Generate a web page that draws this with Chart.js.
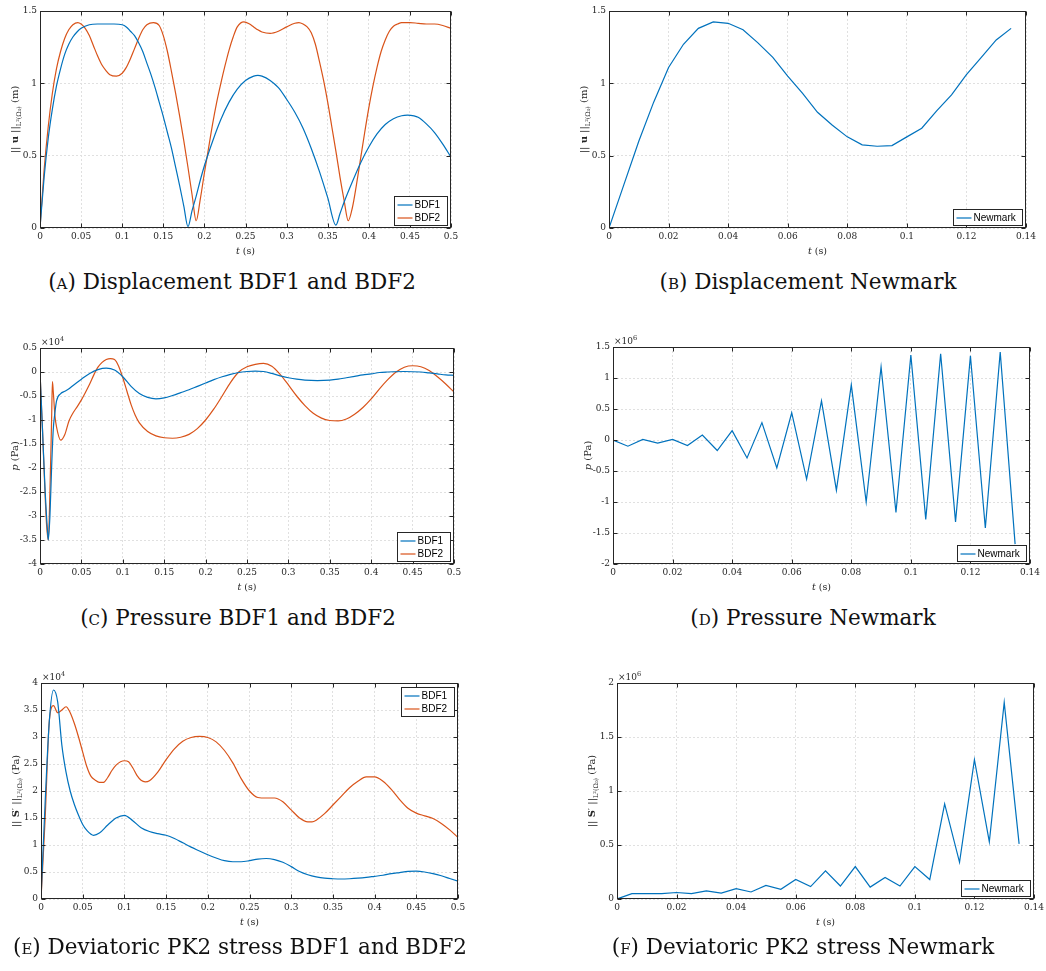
<!DOCTYPE html>
<html>
<head>
<meta charset="utf-8">
<script src="https://cdn.jsdelivr.net/npm/chart.js@4.4.0/dist/chart.umd.min.js"></script>
<style>
  body { margin: 0; background: #fff; width: 1046px; height: 971px; position: relative; overflow: hidden; }
  .panel { position: absolute; }
  .panel canvas { display: block; }
  .cap { position: absolute; font-family: 'DejaVu Serif', serif; font-size: 21.5px; color: #111;
         white-space: nowrap; transform: translateX(-50%); line-height: 26px; }
  .sc { font-variant: small-caps; }
</style>
</head>
<body>

<div class="panel" id="pA"><canvas></canvas></div>
<div class="panel" id="pB"><canvas></canvas></div>
<div class="panel" id="pC"><canvas></canvas></div>
<div class="panel" id="pD"><canvas></canvas></div>
<div class="panel" id="pE"><canvas></canvas></div>
<div class="panel" id="pF"><canvas></canvas></div>

<div class="cap" style="left:232px;top:269px">(<span class="sc">a</span>) Displacement BDF1 and BDF2</div>
<div class="cap" style="left:808px;top:269px">(<span class="sc">b</span>) Displacement Newmark</div>
<div class="cap" style="left:238px;top:605px">(<span class="sc">c</span>) Pressure BDF1 and BDF2</div>
<div class="cap" style="left:813px;top:605px">(<span class="sc">d</span>) Pressure Newmark</div>
<div class="cap" style="left:240px;top:934px">(<span class="sc">e</span>) Deviatoric PK2 stress BDF1 and BDF2</div>
<div class="cap" style="left:803px;top:934px">(<span class="sc">f</span>) Deviatoric PK2 stress Newmark</div>

<script>
// tick labels
const ticksT05 = [0, 0.05, 0.1, 0.15, 0.2, 0.25, 0.3, 0.35, 0.4, 0.45, 0.5]
const ticksT014 = [0, 0.02, 0.04, 0.06, 0.08, 0.1, 0.12, 0.14]
const ticksDisp = [0, 0.5, 1, 1.5]
const ticksPresBdf = [-4, -3.5, -3, -2.5, -2, -1.5, -1, -0.5, 0, 0.5]
const ticksPresNewmark = [-2, -1.5, -1, -0.5, 0, 0.5, 1, 1.5]
const ticksStressBdf = [0, 0.5, 1, 1.5, 2, 2.5, 3, 3.5, 4]
const ticksStressNewmark = [0, 0.5, 1, 1.5, 2]

// displacement (m), [t, value]
const dispBdf1 = [[0,0],[0.005,0.35],[0.01,0.62],[0.015,0.82],[0.02,0.98],[0.025,1.1],[0.03,1.2],[0.035,1.27],[0.04,1.32],[0.045,1.355],[0.05,1.38],[0.06,1.405],[0.07,1.41],[0.08,1.41],[0.09,1.41],[0.1,1.405],[0.105,1.39],[0.11,1.36],[0.115,1.33],[0.12,1.28],[0.125,1.22],[0.13,1.14],[0.135,1.06],[0.14,0.97],[0.145,0.87],[0.15,0.77],[0.155,0.66],[0.16,0.55],[0.165,0.42],[0.17,0.29],[0.175,0.15],[0.18,0.01],[0.185,0.12],[0.19,0.22],[0.195,0.33],[0.2,0.43],[0.21,0.6],[0.22,0.75],[0.23,0.87],[0.24,0.96],[0.25,1.02],[0.26,1.05],[0.265,1.055],[0.27,1.05],[0.28,1.02],[0.29,0.97],[0.3,0.89],[0.31,0.8],[0.32,0.69],[0.33,0.55],[0.34,0.39],[0.35,0.21],[0.36,0.02],[0.365,0.1],[0.37,0.18],[0.38,0.32],[0.39,0.45],[0.4,0.56],[0.41,0.65],[0.42,0.715],[0.43,0.755],[0.44,0.776],[0.447,0.78],[0.455,0.775],[0.46,0.765],[0.47,0.72],[0.48,0.66],[0.49,0.58],[0.5,0.49]]
const dispBdf2 = [[0,0],[0.005,0.4],[0.01,0.7],[0.015,0.93],[0.02,1.1],[0.025,1.22],[0.03,1.31],[0.035,1.37],[0.04,1.405],[0.046,1.42],[0.05,1.41],[0.055,1.38],[0.06,1.33],[0.065,1.26],[0.07,1.19],[0.075,1.13],[0.08,1.09],[0.085,1.06],[0.093,1.05],[0.1,1.07],[0.105,1.11],[0.11,1.17],[0.115,1.24],[0.12,1.31],[0.125,1.37],[0.13,1.405],[0.138,1.42],[0.145,1.4],[0.15,1.33],[0.155,1.22],[0.16,1.08],[0.165,0.93],[0.17,0.77],[0.175,0.6],[0.18,0.42],[0.185,0.23],[0.19,0.05],[0.195,0.2],[0.2,0.38],[0.205,0.55],[0.21,0.72],[0.215,0.87],[0.22,1.0],[0.225,1.12],[0.23,1.23],[0.235,1.32],[0.24,1.39],[0.248,1.425],[0.255,1.41],[0.26,1.39],[0.265,1.37],[0.27,1.355],[0.28,1.345],[0.29,1.36],[0.3,1.39],[0.31,1.415],[0.315,1.42],[0.32,1.41],[0.325,1.39],[0.33,1.35],[0.335,1.27],[0.34,1.15],[0.345,1.02],[0.35,0.87],[0.355,0.7],[0.36,0.53],[0.365,0.35],[0.37,0.19],[0.375,0.05],[0.38,0.14],[0.385,0.3],[0.39,0.48],[0.395,0.66],[0.4,0.83],[0.405,0.98],[0.41,1.11],[0.415,1.22],[0.42,1.3],[0.425,1.36],[0.43,1.395],[0.435,1.41],[0.44,1.42],[0.45,1.42],[0.46,1.415],[0.47,1.41],[0.48,1.41],[0.49,1.4],[0.5,1.38]]

// pressure (x1e4 Pa)
const presBdf1 = [[0,0],[0.003,-1.2],[0.006,-2.4],[0.009,-3.3],[0.01,-3.5],[0.012,-3.0],[0.014,-2.0],[0.016,-1.2],[0.018,-0.85],[0.02,-0.6],[0.025,-0.45],[0.03,-0.4],[0.035,-0.35],[0.04,-0.28],[0.05,-0.15],[0.06,-0.03],[0.07,0.05],[0.08,0.08],[0.09,0.04],[0.1,-0.1],[0.11,-0.3],[0.12,-0.45],[0.13,-0.53],[0.14,-0.56],[0.15,-0.54],[0.16,-0.49],[0.17,-0.43],[0.18,-0.37],[0.19,-0.3],[0.2,-0.23],[0.21,-0.16],[0.22,-0.1],[0.23,-0.05],[0.24,-0.01],[0.25,0.01],[0.26,0.02],[0.27,0.01],[0.28,-0.03],[0.29,-0.08],[0.3,-0.12],[0.31,-0.15],[0.32,-0.17],[0.335,-0.18],[0.35,-0.17],[0.36,-0.15],[0.37,-0.12],[0.38,-0.09],[0.39,-0.06],[0.4,-0.04],[0.41,-0.01],[0.42,0],[0.44,0.01],[0.46,0],[0.47,-0.02],[0.48,-0.04],[0.49,-0.06],[0.5,-0.07]]
const presBdf2 = [[0,0],[0.003,-1.2],[0.006,-2.5],[0.008,-3.2],[0.01,-3.5],[0.012,-2.5],[0.014,-1.0],[0.015,-0.2],[0.016,-0.4],[0.018,-0.9],[0.02,-1.15],[0.025,-1.42],[0.03,-1.3],[0.035,-1.02],[0.04,-0.85],[0.045,-0.72],[0.05,-0.58],[0.055,-0.42],[0.06,-0.25],[0.065,-0.06],[0.07,0.1],[0.075,0.2],[0.08,0.26],[0.085,0.28],[0.09,0.26],[0.095,0.12],[0.1,-0.12],[0.105,-0.4],[0.11,-0.68],[0.115,-0.9],[0.12,-1.06],[0.13,-1.24],[0.14,-1.33],[0.15,-1.37],[0.16,-1.38],[0.17,-1.36],[0.18,-1.3],[0.19,-1.18],[0.2,-1.0],[0.21,-0.77],[0.22,-0.5],[0.23,-0.22],[0.24,0],[0.25,0.11],[0.26,0.16],[0.27,0.18],[0.28,0.12],[0.29,-0.05],[0.3,-0.27],[0.31,-0.5],[0.32,-0.7],[0.33,-0.86],[0.34,-0.96],[0.35,-1.01],[0.36,-1.02],[0.37,-0.98],[0.38,-0.88],[0.39,-0.74],[0.4,-0.56],[0.41,-0.35],[0.42,-0.16],[0.43,0],[0.44,0.1],[0.45,0.13],[0.46,0.11],[0.47,0.03],[0.48,-0.1],[0.49,-0.25],[0.5,-0.42]]

// deviatoric PK2 stress (x1e4 Pa)
const stressBdf1 = [[0,0],[0.005,1.8],[0.01,3.3],[0.015,3.87],[0.02,3.65],[0.025,2.85],[0.03,2.35],[0.035,2.0],[0.04,1.75],[0.045,1.55],[0.05,1.38],[0.055,1.27],[0.063,1.18],[0.07,1.22],[0.08,1.37],[0.09,1.5],[0.1,1.55],[0.11,1.45],[0.12,1.32],[0.13,1.25],[0.14,1.21],[0.15,1.18],[0.16,1.12],[0.17,1.04],[0.18,0.96],[0.19,0.89],[0.2,0.82],[0.21,0.76],[0.22,0.71],[0.23,0.69],[0.24,0.69],[0.25,0.71],[0.26,0.74],[0.27,0.75],[0.28,0.73],[0.29,0.68],[0.3,0.6],[0.31,0.51],[0.32,0.45],[0.33,0.41],[0.34,0.385],[0.35,0.375],[0.36,0.37],[0.37,0.375],[0.38,0.385],[0.39,0.4],[0.4,0.42],[0.41,0.44],[0.42,0.47],[0.43,0.49],[0.44,0.51],[0.45,0.515],[0.46,0.5],[0.47,0.47],[0.48,0.43],[0.49,0.38],[0.5,0.33]]
const stressBdf2 = [[0,0],[0.005,1.5],[0.01,3.3],[0.015,3.58],[0.02,3.45],[0.025,3.5],[0.03,3.56],[0.035,3.45],[0.04,3.25],[0.045,3.0],[0.05,2.72],[0.055,2.45],[0.06,2.27],[0.065,2.2],[0.07,2.16],[0.075,2.16],[0.08,2.25],[0.085,2.38],[0.09,2.48],[0.1,2.56],[0.105,2.54],[0.11,2.43],[0.115,2.29],[0.12,2.2],[0.125,2.17],[0.13,2.19],[0.14,2.35],[0.15,2.58],[0.16,2.78],[0.17,2.92],[0.18,2.99],[0.19,3.01],[0.2,2.99],[0.21,2.91],[0.22,2.75],[0.23,2.52],[0.24,2.23],[0.25,2.0],[0.26,1.88],[0.27,1.87],[0.28,1.87],[0.29,1.8],[0.3,1.65],[0.31,1.5],[0.32,1.43],[0.325,1.43],[0.33,1.46],[0.34,1.58],[0.35,1.74],[0.36,1.9],[0.37,2.06],[0.38,2.18],[0.39,2.26],[0.4,2.26],[0.41,2.18],[0.42,2.03],[0.43,1.84],[0.44,1.68],[0.45,1.59],[0.46,1.54],[0.47,1.49],[0.48,1.4],[0.49,1.28],[0.5,1.14]]

// Newmark, one value per time step
const tNewmark = [0, 0.005, 0.01, 0.015, 0.02, 0.025, 0.03, 0.035, 0.04, 0.045, 0.05, 0.055, 0.06, 0.065, 0.07, 0.075, 0.08, 0.085, 0.09, 0.095, 0.1, 0.105, 0.11, 0.115, 0.12, 0.125, 0.13, 0.135]
const dispNewmark = [0, 0.3, 0.6, 0.87, 1.11, 1.27, 1.38, 1.425, 1.415, 1.37, 1.28, 1.18, 1.05, 0.93, 0.8, 0.71, 0.63, 0.575, 0.565, 0.57, 0.63, 0.69, 0.81, 0.92, 1.06, 1.18, 1.3, 1.38]
const presNewmark = [0, -0.1, 0.01, -0.05, 0.01, -0.09, 0.08, -0.17, 0.15, -0.29, 0.28, -0.45, 0.44, -0.63, 0.63, -0.81, 0.89, -1.0, 1.18, -1.17, 1.37, -1.28, 1.39, -1.32, 1.36, -1.42, 1.42, -1.68] // x1e6
const stressNewmark = [0, 0.05, 0.05, 0.05, 0.06, 0.05, 0.075, 0.055, 0.095, 0.065, 0.125, 0.09, 0.18, 0.115, 0.26, 0.12, 0.3, 0.11, 0.2, 0.12, 0.3, 0.18, 0.88, 0.34, 1.29, 0.53, 1.82, 0.51] // x1e6

const BLUE = '#0072BD'
const ORANGE = '#D95319'
const AXIS = '#262626'
const SERIF = "'DejaVu Serif', serif"
const SANS = "'Liberation Sans', Arial, sans-serif"

const pairs = (arr) => arr.map(([x, y]) => ({ x, y }))
const zip = (ts, vs) => ts.map((x, i) => ({ x, y: vs[i] }))

function richText(ctx, parts, x, y, rotate, align) {
  ctx.save()
  ctx.translate(x, y)
  if (rotate) ctx.rotate(-Math.PI / 2)
  let total = 0
  parts.forEach(p => { ctx.font = p.font; p.w = ctx.measureText(p.text).width; total += p.w })
  let cx = align === 'left' ? 0 : -total / 2
  ctx.textBaseline = 'alphabetic'
  ctx.fillStyle = AXIS
  parts.forEach(p => { ctx.font = p.font; ctx.fillText(p.text, cx, p.dy || 0); cx += p.w })
  ctx.restore()
}

function drawLegend(chart, corner) {
  const { ctx, chartArea: a } = chart
  const items = chart.data.datasets
  ctx.save()
  ctx.font = `10px ${SANS}`
  const tw = Math.max(...items.map(d => ctx.measureText(d.label).width))
  const rowH = 13
  const w = Math.round(3 + 15 + 2 + tw + 7)
  const h = items.length * rowH + 3
  const x = Math.round(a.right - 4 - w) + 0.5
  const y = corner === 'tr' ? Math.round(a.top + 4) + 0.5 : Math.round(a.bottom - 3 - h) + 0.5
  ctx.fillStyle = '#fff'
  ctx.fillRect(x, y, w, h)
  ctx.strokeStyle = AXIS
  ctx.lineWidth = 1
  ctx.strokeRect(x, y, w, h)
  items.forEach((d, i) => {
    const cy = Math.round(y + 1.5 + rowH * (i + 0.5))
    ctx.strokeStyle = d.borderColor
    ctx.lineWidth = 1.2
    ctx.beginPath()
    ctx.moveTo(x + 3, cy)
    ctx.lineTo(x + 18, cy)
    ctx.stroke()
    ctx.fillStyle = '#000'
    ctx.textBaseline = 'middle'
    ctx.fillText(d.label, x + 20, cy + 0.5)
  })
  ctx.restore()
}

// MATLAB-style box, inward ticks, axis titles, exponent and legend
const matlabPlugin = {
  id: 'matlab',
  afterDraw(chart, args, o) {
    const { ctx, chartArea: a, scales } = chart
    const L = Math.round(a.left) + 0.5, R = Math.round(a.right) - 0.5
    const T = Math.round(a.top) + 0.5, B = Math.round(a.bottom) - 0.5
    ctx.save()
    ctx.strokeStyle = AXIS
    ctx.lineWidth = 1
    ctx.strokeRect(L, T, R - L, B - T)
    ctx.beginPath()
    scales.x.ticks.forEach(t => {
      const px = Math.round(scales.x.getPixelForValue(t.value)) + 0.5
      ctx.moveTo(px, B); ctx.lineTo(px, B - 4)
      ctx.moveTo(px, T); ctx.lineTo(px, T + 4)
    })
    scales.y.ticks.forEach(t => {
      const py = Math.round(scales.y.getPixelForValue(t.value)) + 0.5
      ctx.moveTo(L, py); ctx.lineTo(L + 4, py)
      ctx.moveTo(R, py); ctx.lineTo(R - 4, py)
    })
    ctx.stroke()
    ctx.restore()

    richText(ctx, [
      { text: 't', font: `italic 9.5px ${SERIF}` },
      { text: ' (s)', font: `9.5px ${SERIF}` }
    ], (a.left + a.right) / 2, a.bottom + 26, false)
    richText(ctx, o.yTitle, a.left - 22, (a.top + a.bottom) / 2, true)
    if (o.exponent) {
      richText(ctx, [
        { text: '×10', font: `9px ${SERIF}` },
        { text: o.exponent, font: `6.5px ${SERIF}`, dy: -4 }
      ], a.left + 1, a.top - 3, false, 'left')
    }
    drawLegend(chart, o.legendCorner)
  }
}

const normTitle = (sym, bold, unit) => [
  { text: '|| ', font: `10px ${SERIF}` },
  { text: sym, font: `bold 10px ${SERIF}` },
  { text: bold ? '′ ||' : ' ||', font: `10px ${SERIF}` },
  { text: 'L²(Ω₀)', font: `6.5px ${SERIF}`, dy: 3 },
  { text: ' ' + unit, font: `10px ${SERIF}` }
]

function makeChart(id, box, xTicks, yTicks, datasets, extra) {
  const padL = 46, padT = 14, padR = 10, padB = 36
  const wrap = document.getElementById(id)
  const cv = wrap.querySelector('canvas')
  const W = box.r - box.l + padL + padR
  const H = box.b - box.t + padT + padB
  wrap.style.left = (box.l - padL) + 'px'
  wrap.style.top = (box.t - padT) + 'px'
  cv.width = W
  cv.height = H
  cv.style.width = W + 'px'
  cv.style.height = H + 'px'

  const axisCommon = {
    type: 'linear',
    grid: { color: '#e0e0e0', drawTicks: false, lineWidth: 1 },
    border: { display: false, dash: [2, 2] },
  }

  return new Chart(cv, {
    type: 'line',
    data: { datasets },
    options: {
      responsive: false,
      animation: false,
      devicePixelRatio: 1,
      layout: { padding: { left: 0, top: padT, right: padR, bottom: 0 } },
      elements: { point: { radius: 0 } },
      plugins: {
        legend: { display: false },
        tooltip: { enabled: false },
        matlab: extra,
      },
      scales: {
        x: {
          ...axisCommon,
          min: xTicks[0],
          max: xTicks[xTicks.length - 1],
          afterBuildTicks: s => { s.ticks = xTicks.map(v => ({ value: v })) },
          afterFit: s => { s.height = padB; s.paddingLeft = 0; s.paddingRight = 0 },
          ticks: { padding: 3, color: AXIS, font: { family: SERIF, size: 9 }, maxRotation: 0, autoSkip: false, callback: v => String(v) },
        },
        y: {
          ...axisCommon,
          min: yTicks[0],
          max: yTicks[yTicks.length - 1],
          afterBuildTicks: s => { s.ticks = yTicks.map(v => ({ value: v })) },
          afterFit: s => { s.width = padL; s.paddingTop = 0; s.paddingBottom = 0 },
          ticks: { padding: 3, color: AXIS, font: { family: SERIF, size: 9 }, autoSkip: false, callback: v => String(v) },
        },
      },
    },
    plugins: [matlabPlugin],
  })
}

const smooth = (label, color, data) => ({ label, data, borderColor: color, borderWidth: 1.2, fill: false, cubicInterpolationMode: 'monotone' })
const straight = (label, color, data) => ({ label, data, borderColor: color, borderWidth: 1.2, fill: false, tension: 0 })

makeChart('pA', { l: 40, r: 451, t: 11, b: 228 }, ticksT05, ticksDisp,
  [smooth('BDF1', BLUE, pairs(dispBdf1)), smooth('BDF2', ORANGE, pairs(dispBdf2))],
  { yTitle: normTitle('u', false, '(m)'), legendCorner: 'br' })

makeChart('pB', { l: 609, r: 1026, t: 11, b: 228 }, ticksT014, ticksDisp,
  [straight('Newmark', BLUE, zip(tNewmark, dispNewmark))],
  { yTitle: normTitle('u', false, '(m)'), legendCorner: 'br' })

makeChart('pC', { l: 40, r: 454, t: 348, b: 564 }, ticksT05, ticksPresBdf,
  [smooth('BDF1', BLUE, pairs(presBdf1)), smooth('BDF2', ORANGE, pairs(presBdf2))],
  { yTitle: [{ text: 'p', font: `italic 10px ${SERIF}` }, { text: ' (Pa)', font: `10px ${SERIF}` }], exponent: '4', legendCorner: 'br' })

makeChart('pD', { l: 613, r: 1030, t: 347, b: 564 }, ticksT014, ticksPresNewmark,
  [straight('Newmark', BLUE, zip(tNewmark, presNewmark))],
  { yTitle: [{ text: 'p', font: `italic 10px ${SERIF}` }, { text: ' (Pa)', font: `10px ${SERIF}` }], exponent: '6', legendCorner: 'br' })

makeChart('pE', { l: 41, r: 458, t: 683, b: 899 }, ticksT05, ticksStressBdf,
  [smooth('BDF1', BLUE, pairs(stressBdf1)), smooth('BDF2', ORANGE, pairs(stressBdf2))],
  { yTitle: normTitle('S', true, '(Pa)'), exponent: '4', legendCorner: 'tr' })

makeChart('pF', { l: 617, r: 1034, t: 683, b: 899 }, ticksT014, ticksStressNewmark,
  [straight('Newmark', BLUE, zip(tNewmark, stressNewmark))],
  { yTitle: normTitle('S', true, '(Pa)'), exponent: '6', legendCorner: 'br' })
</script>
</body>
</html>
